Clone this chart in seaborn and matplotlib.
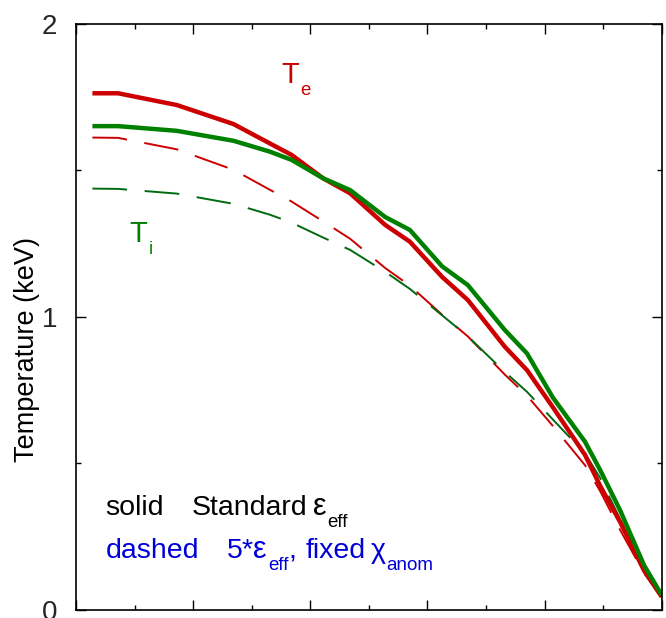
import numpy as np
import pandas as pd
import matplotlib
matplotlib.use("Agg")
import matplotlib.pyplot as plt
from matplotlib.ticker import MultipleLocator
from matplotlib.transforms import IdentityTransform
import seaborn as sns

# ---- data ----
x_grid = [0.028, 0.072, 0.172, 0.269, 0.331, 0.368, 0.422, 0.468, 0.528, 0.570,
          0.625, 0.669, 0.732, 0.770, 0.814, 0.869, 0.895, 0.929, 0.970, 1.000]

te_standard = [1.762, 1.762, 1.722, 1.657, 1.591, 1.552, 1.472, 1.421, 1.313, 1.256,
               1.136, 1.057, 0.898, 0.818, 0.692, 0.529, 0.423, 0.300, 0.134, 0.045]
ti_standard = [1.650, 1.650, 1.634, 1.600, 1.563, 1.535, 1.472, 1.432, 1.340, 1.296,
               1.172, 1.108, 0.955, 0.875, 0.725, 0.574, 0.477, 0.340, 0.152, 0.051]
te_5x = [1.611, 1.610, 1.571, 1.501, 1.433, 1.393, 1.325, 1.266, 1.166, 1.106,
         1.007, 0.933, 0.803, 0.731, 0.628, 0.494, 0.405, 0.273, 0.125, 0.045]
ti_5x = [1.437, 1.436, 1.420, 1.385, 1.348, 1.321, 1.270, 1.228, 1.153, 1.095,
         1.005, 0.933, 0.812, 0.744, 0.650, 0.534, 0.450, 0.310, 0.140, 0.050]

series_names = ["Te_5x", "Ti_5x", "Te_std", "Ti_std"]
series_values = [te_5x, ti_5x, te_standard, ti_standard]

y_ticks = [0, 1, 2]
y_tick_labels = ["0", "1", "2"]

# ---- styling ----
sns.set_theme(style="ticks")
plt.rcParams["font.family"] = ["Liberation Sans", "DejaVu Sans"]
plt.rcParams["mathtext.fontset"] = "custom"
plt.rcParams["mathtext.rm"] = "Liberation Sans"
plt.rcParams["mathtext.it"] = "Liberation Sans:italic"
plt.rcParams["mathtext.bf"] = "Liberation Sans:bold"
plt.rcParams["lines.scale_dashes"] = False
plt.rcParams["lines.solid_capstyle"] = "butt"
plt.rcParams["lines.dash_capstyle"] = "butt"

RED = "#cc0000"
GREEN = "#008000"
DGREEN = "#006a10"
BLUE = "#0000d8"

palette = {"Te_5x": RED, "Ti_5x": DGREEN, "Te_std": RED, "Ti_std": GREEN}
dashes = {"Te_5x": (25, 12.7), "Ti_5x": (25, 12.7), "Te_std": "", "Ti_std": ""}
sizes = {"Te_5x": 1.4, "Ti_5x": 1.4, "Te_std": 3.2, "Ti_std": 3.2}

df = pd.concat(
    [pd.DataFrame({"x": x_grid, "T": vals, "series": name})
     for name, vals in zip(series_names, series_values)],
    ignore_index=True,
)

W, H = 666, 618
fig = plt.figure(figsize=(W / 100, H / 100), dpi=100)
ax = fig.add_axes([76 / W, 8 / H, 585.7 / W, 586.5 / H])

sns.lineplot(
    data=df, x="x", y="T",
    hue="series", hue_order=series_names, palette=palette,
    style="series", style_order=series_names, dashes=dashes,
    size="series", size_order=series_names, sizes=sizes,
    estimator=None, sort=False, legend=False, ax=ax,
)

ax.set_xlim(0, 1)
ax.set_ylim(0, 2)
ax.xaxis.set_major_locator(MultipleLocator(0.2))
ax.xaxis.set_minor_locator(MultipleLocator(0.1))
ax.set_yticks(y_ticks)
ax.set_yticklabels(y_tick_labels)
ax.yaxis.set_minor_locator(MultipleLocator(0.5))
ax.tick_params(which="both", direction="in", top=True, right=True,
               labelbottom=False, color="black", width=1.0)
ax.tick_params(which="major", length=7.2, labelsize=20, pad=13.5)
ax.tick_params(which="minor", length=3.3)
for s in ax.spines.values():
    s.set_color("black")
    s.set_linewidth(1.2)
ax.set_xlabel("")
ax.set_ylabel("")

fig.text(27 / W, 1 - 350 / H, "Temperature (keV)", rotation=90,
         ha="center", va="center", fontsize=19.5, color="black")

renderer = fig.canvas.get_renderer()
ident = IdentityTransform()
MAIN, SUB, DROP = 20.5, 13.5, 12


def put(x_px, base_px, s, size, color):
    """Place text with its left edge at x_px and baseline at base_px (pixels from top)."""
    t = fig.text(x_px, H - base_px, s, transform=ident, fontsize=size,
                 color=color, ha="left", va="baseline")
    return t.get_window_extent(renderer).x1


def line(base_px, pieces, color, main=MAIN):
    """pieces: (text, x_px or None to follow previous, size or 'sub', gap)."""
    x = 0
    for s, xp, size, gap in pieces:
        if xp is not None:
            x = xp
        else:
            x = x + gap
        if size == "sub":
            x = put(x, base_px + DROP, s, SUB, color)
        else:
            x = put(x, base_px, s, size or main, color)


# curve labels
line(83.3, [("T", 281.0, 21, 0), ("e", None, "sub", 1.5)], RED)
line(241.7, [("T", 129.5, 21, 0), ("i", None, "sub", 1.5)], GREEN)

# annotation block
line(515, [("solid", 105.5, None, 0), ("Standard", 191.5, None, 0),
           ("ε", None, 22, 6), ("eff", None, "sub", 1)], "black")
line(558, [("dashed", 105.5, None, 0), ("5*", 226.5, None, 0),
           ("ε", None, 22, 0), ("eff", None, "sub", 1), (",", None, None, 0),
           ("fixed", 305.5, None, 0), ("χ", None, None, 5),
           ("anom", None, "sub", 1)], BLUE)

fig.savefig("out.png", dpi=100)
